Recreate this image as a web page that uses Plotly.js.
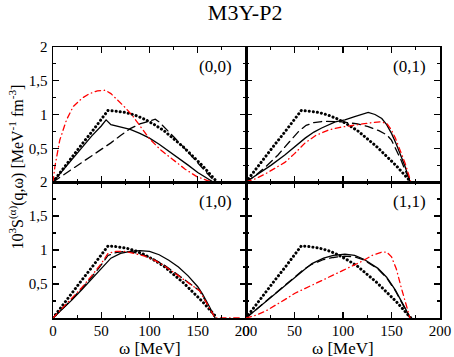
<!DOCTYPE html>
<html>
<head>
<meta charset="utf-8">
<script src="https://cdn.plot.ly/plotly-3.0.1.min.js"></script>
<style>
  html, body { margin: 0; padding: 0; background: #fff; }
  #chart { width: 454px; height: 357px; }
  /* round caps so the dotted curve is drawn as round dots */
  #chart path.js-line { stroke-linecap: round; }
</style>
</head>
<body>
<div id="chart"></div>
<script>
// free response (dotted), same in every panel
const wFree = [0, 10, 20, 30, 40, 50, 57, 65, 75, 85, 95, 105, 115, 125, 135, 145, 155, 165, 170];
const sFree = [0, 0.19, 0.37, 0.56, 0.74, 0.93, 1.06, 1.05, 1.03, 0.99, 0.93, 0.85, 0.76, 0.64, 0.52, 0.38, 0.24, 0.08, 0];

// (0,0)
const w00Solid = [0, 10, 20, 30, 40, 50, 55, 60, 70, 80, 90, 100, 110, 120, 130, 140, 150, 158, 166];
const s00Solid = [0, 0.17, 0.35, 0.52, 0.68, 0.83, 0.92, 0.85, 0.82, 0.78, 0.72, 0.65, 0.56, 0.46, 0.35, 0.25, 0.14, 0.07, 0];
const w00Dash = [0, 20, 40, 49, 60, 70, 80, 90, 100, 106, 110, 115, 125, 135, 145, 155, 168];
const s00Dash = [0, 0.19, 0.38, 0.47, 0.58, 0.69, 0.79, 0.86, 0.91, 0.93, 0.89, 0.82, 0.67, 0.52, 0.36, 0.2, 0];
const w00Red = [0, 2, 7, 14, 21, 30, 38, 46, 54, 60, 65, 75, 83, 92, 100, 112, 125, 137, 149, 160, 166];
const s00Red = [0, 0.23, 0.62, 0.92, 1.12, 1.24, 1.31, 1.35, 1.36, 1.31, 1.24, 1.1, 0.97, 0.8, 0.64, 0.47, 0.33, 0.19, 0.08, 0.02, 0];

// (0,1)
const w01Solid = [0, 13, 26, 40, 50, 61, 70, 78, 92, 102, 112, 120, 126, 133, 140, 145, 150, 155, 160, 164, 169];
const s01Solid = [0, 0.12, 0.25, 0.4, 0.52, 0.65, 0.74, 0.8, 0.89, 0.92, 0.97, 1.01, 1.03, 1.0, 0.94, 0.85, 0.72, 0.56, 0.38, 0.23, 0];
const w01Dash = [0, 10, 20, 33, 45, 55, 62, 70, 80, 100, 115, 126, 137, 145, 150, 155, 160, 165, 170];
const s01Dash = [0, 0.1, 0.22, 0.4, 0.6, 0.76, 0.84, 0.88, 0.9, 0.89, 0.86, 0.82, 0.76, 0.7, 0.62, 0.47, 0.32, 0.14, 0];
const w01Red = [0, 10, 20, 30, 40, 50, 61, 72, 85, 97, 109, 120, 130, 138, 145, 150, 154, 159, 164, 170];
const s01Red = [0, 0.05, 0.12, 0.2, 0.29, 0.42, 0.58, 0.69, 0.77, 0.81, 0.84, 0.86, 0.88, 0.89, 0.87, 0.77, 0.65, 0.47, 0.28, 0];

// (1,0)
const w10Solid = [0, 10, 20, 30, 40, 50, 60, 70, 80, 90, 100, 110, 120, 130, 140, 150, 155, 162, 168];
const s10Solid = [0, 0.13, 0.27, 0.42, 0.57, 0.72, 0.88, 0.95, 0.98, 0.99, 0.98, 0.93, 0.85, 0.75, 0.62, 0.46, 0.35, 0.17, 0];
const w10Dash = [0, 10, 20, 30, 40, 50, 57, 65, 75, 85, 95, 105, 115, 125, 135, 145, 152, 160, 168];
const s10Dash = [0, 0.14, 0.28, 0.44, 0.6, 0.78, 0.92, 0.96, 0.98, 0.96, 0.92, 0.86, 0.78, 0.68, 0.58, 0.47, 0.4, 0.2, 0];
const w10Red = [0, 10, 20, 30, 40, 50, 57, 65, 75, 85, 95, 105, 115, 125, 135, 145, 152, 160, 168, 175, 195];
const s10Red = [0, 0.15, 0.29, 0.45, 0.62, 0.8, 0.95, 0.98, 0.98, 0.95, 0.91, 0.85, 0.77, 0.67, 0.57, 0.47, 0.4, 0.2, 0, 0, 0];

// (1,1)
const w11Solid = [0, 10, 20, 30, 40, 50, 60, 68, 80, 90, 102, 112, 122, 136, 145, 154, 160, 165, 169];
const s11Solid = [0, 0.12, 0.24, 0.36, 0.48, 0.6, 0.71, 0.8, 0.88, 0.92, 0.94, 0.92, 0.86, 0.73, 0.6, 0.41, 0.26, 0.12, 0];
const w11Dash = [0, 10, 20, 30, 40, 50, 60, 68, 80, 90, 102, 112, 122, 136, 145, 154, 160, 165, 169];
const s11Dash = [0, 0.12, 0.24, 0.36, 0.48, 0.6, 0.72, 0.79, 0.86, 0.89, 0.91, 0.9, 0.85, 0.72, 0.59, 0.4, 0.25, 0.11, 0];
const w11Red = [0, 10, 20, 30, 40, 50, 60, 70, 85, 100, 119, 130, 140, 145, 150, 155, 160, 165, 169];
const s11Red = [0, 0.04, 0.1, 0.18, 0.27, 0.36, 0.43, 0.5, 0.6, 0.7, 0.83, 0.92, 0.97, 0.97, 0.9, 0.72, 0.45, 0.2, 0];

const panelLabels = ['(0,0)', '(0,1)', '(1,0)', '(1,1)'];
const xTicks = [0, 50, 100, 150, 200];
const yTicks = [0.5, 1, 1.5, 2];

const serif = 'Liberation Serif, Times New Roman, serif';

// one panel = four curves on axis pair n
function panelTraces(n, solid, dash, red) {
    const xa = n === 1 ? 'x' : 'x' + n;
    const ya = n === 1 ? 'y' : 'y' + n;
    return [
        { x: wFree, y: sFree, xaxis: xa, yaxis: ya, mode: 'lines',
          line: { color: 'black', width: 3, dash: '0.1px,4px' } },
        { x: solid[0], y: solid[1], xaxis: xa, yaxis: ya, mode: 'lines',
          line: { color: 'black', width: 1.3 } },
        { x: dash[0], y: dash[1], xaxis: xa, yaxis: ya, mode: 'lines',
          line: { color: 'black', width: 1.3, dash: '8px,5px' } },
        { x: red[0], y: red[1], xaxis: xa, yaxis: ya, mode: 'lines',
          line: { color: '#ff0000', width: 1.3, dash: '5.5px,3.6px,0.5px,3.6px' } }
    ];
}

const data = [].concat(
    panelTraces(1, [w00Solid, s00Solid], [w00Dash, s00Dash], [w00Red, s00Red]),
    panelTraces(2, [w01Solid, s01Solid], [w01Dash, s01Dash], [w01Red, s01Red]),
    panelTraces(3, [w10Solid, s10Solid], [w10Dash, s10Dash], [w10Red, s10Red]),
    panelTraces(4, [w11Solid, s11Solid], [w11Dash, s11Dash], [w11Red, s11Red])
);

const xSplit = 193 / 387;
const ySplit = 136 / 271;

function xAxis(domain, anchor, labels) {
    return {
        domain: domain, anchor: anchor, range: [0, 200],
        showgrid: false, zeroline: false,
        showline: true, linecolor: 'black', linewidth: 1.5, mirror: 'allticks',
        ticks: 'inside', ticklen: 6, tickwidth: 1.2, tickcolor: 'black',
        tickvals: xTicks, showticklabels: labels, ticklabelstandoff: -2,
        minor: { ticks: 'inside', ticklen: 3, tickwidth: 1.2, tickcolor: 'black', dtick: 25 },
        tickfont: { family: serif, size: 15, color: 'black' }
    };
}

function yAxis(domain, anchor, labels) {
    return {
        domain: domain, anchor: anchor, range: [0, 2],
        showgrid: false, zeroline: false,
        showline: true, linecolor: 'black', linewidth: 1.5, mirror: 'allticks',
        ticks: 'inside', ticklen: 6, tickwidth: 1.2, tickcolor: 'black',
        tickvals: yTicks, showticklabels: labels, ticklabelstandoff: 1,
        minor: { ticks: 'inside', ticklen: 3, tickwidth: 1.2, tickcolor: 'black', dtick: 0.25 },
        tickfont: { family: serif, size: 15, color: 'black' }
    };
}

const annotations = panelLabels.map(function (txt, i) {
    const n = i + 1;
    return {
        text: txt, showarrow: false,
        xref: (n === 1 ? 'x' : 'x' + n) + ' domain', yref: (n === 1 ? 'y' : 'y' + n) + ' domain',
        x: 0.94, y: 0.94, xanchor: 'right', yanchor: 'top',
        font: { family: serif, size: 17, color: 'black' }
    };
});
// x titles under the two bottom panels
['x3 domain', 'x4 domain'].forEach(function (ref) {
    annotations.push({
        text: 'ω [MeV]', showarrow: false,
        xref: ref, yref: 'paper', x: 0.5, y: -0.112,
        xanchor: 'center', yanchor: 'middle',
        font: { family: serif, size: 17, color: 'black' }
    });
});
annotations.push({
    text: '10<sup>3</sup>S<sup>(α)</sup>(q,ω) [MeV<sup>-1</sup> fm<sup>-3</sup>]',
    showarrow: false, textangle: -90,
    xref: 'paper', yref: 'paper', x: -0.093, y: 0.555,
    xanchor: 'center', yanchor: 'middle',
    font: { family: serif, size: 16, color: 'black' }
});

const layout = {
    width: 454, height: 357,
    margin: { l: 53, r: 14, t: 47, b: 39, pad: 0 },
    paper_bgcolor: 'white', plot_bgcolor: 'white',
    showlegend: false,
    separators: ',.',
    title: { text: 'M3Y-P2', x: 0.54, xanchor: 'center', y: 0.965, yanchor: 'middle',
             font: { family: serif, size: 22, color: 'black' } },
    xaxis: xAxis([0, xSplit], 'y', false),
    yaxis: yAxis([ySplit, 1], 'x', true),
    xaxis2: xAxis([xSplit, 1], 'y2', false),
    yaxis2: yAxis([ySplit, 1], 'x2', false),
    xaxis3: xAxis([0, xSplit], 'y3', true),
    yaxis3: yAxis([0, ySplit], 'x3', true),
    xaxis4: xAxis([xSplit, 1], 'y4', true),
    yaxis4: yAxis([0, ySplit], 'x4', false),
    annotations: annotations
};

Plotly.newPlot('chart', data, layout, { displayModeBar: false, staticPlot: true });
</script>
</body>
</html>
